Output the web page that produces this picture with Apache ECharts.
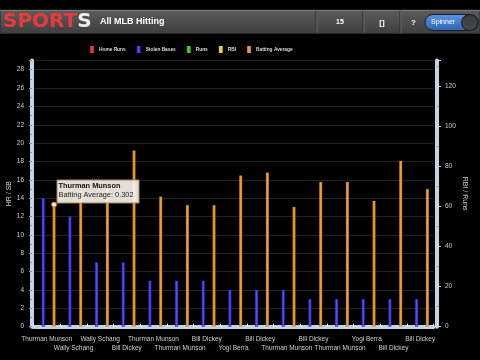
<!DOCTYPE html>
<html>
<head>
<meta charset="utf-8">
<script src="https://cdn.jsdelivr.net/npm/echarts@6/dist/echarts.min.js"></script>
<style>
html,body{margin:0;padding:0;background:#000;}
#c{width:480px;height:360px;}
</style>
</head>
<body>
<div id="c"></div>
<script>
// ---- data ----
const categories = ['Thurman Munson','Wally Schang','Wally Schang','Bill Dickey','Thurman Munson','Thurman Munson','Bill Dickey','Yogi Berra','Bill Dickey','Thurman Munson','Bill Dickey','Thurman Munson','Yogi Berra','Bill Dickey','Bill Dickey'];
const homeRuns = [];
const stolenBases = [14, 12, 7, 7, 5, 5, 5, 4, 4, 4, 3, 3, 3, 3, 3];
const runs = [];
const rbi = [];
const battingAverage = [61, 68, 69, 88, 65, 60.7, 60.7, 75.5, 77, 59.8, 72.3, 72.3, 62.8, 82.8, 68.7];
const seriesNames = ['Home Runs', 'Stolen Bases', 'Runs', 'RBI', 'Batting Average'];
const leftAxisName = 'HR / SB';
const rightAxisName = 'RBI / Runs';
const headerTitle = 'All MLB Hitting';
const tooltipIndex = 0;
const tooltipValue = '0.302';

// ---- styles ----
function barGrad(edge, mid) {
  return new echarts.graphic.LinearGradient(0, 0, 1, 0, [
    {offset: 0, color: edge}, {offset: 0.5, color: mid}, {offset: 1, color: edge}
  ]);
}
const colors = [
  barGrad('#c01818', '#f04848'),
  barGrad('#3020c8', '#5a50f4'),
  barGrad('#30a018', '#60d040'),
  barGrad('#c8b818', '#f0e048'),
  barGrad('#c07418', '#f0a838')
];
const axisCol = '#c4d4e4';
const labelCol = '#cfcfcf';
const font = 'Liberation Sans, Arial, sans-serif';

const chart = echarts.init(document.getElementById('c'), null, {renderer: 'canvas'});

function mkSeries(i, data, yIdx) {
  return {
    name: seriesNames[i], type: 'bar', yAxisIndex: yIdx, data: data,
    barWidth: 3, barGap: '20%',
    itemStyle: {color: colors[i]},
    emphasis: {disabled: true}
  };
}
const series = [
  mkSeries(0, homeRuns, 0),
  mkSeries(1, stolenBases, 0),
  mkSeries(2, runs, 1),
  mkSeries(3, rbi, 1),
  mkSeries(4, battingAverage, 1)
];
series[4].markPoint = {
  symbol: 'circle', symbolSize: 5,
  itemStyle: {color: '#f4ecdc', borderColor: '#c87818', borderWidth: 1},
  label: {show: false},
  data: [{coord: [tooltipIndex, battingAverage[tooltipIndex]]}]
};

const option = {
  backgroundColor: '#000',
  animation: false,
  textStyle: {fontFamily: font},
  legend: {
    left: 85, top: 41, itemWidth: 4, itemHeight: 7, itemGap: 11, icon: 'rect',
    data: seriesNames,
    textStyle: {color: '#dcdcdc', fontSize: 4.8, fontWeight: 'bold', fontFamily: font},
    selectedMode: false
  },
  grid: {left: 33.5, right: 46.5, top: 60.5, bottom: 33.3, containLabel: false, outerBoundsMode: 'none'},
  xAxis: {
    type: 'category', data: categories, offset: 2,
    axisLine: {lineStyle: {color: axisCol, width: 4}},
    axisTick: {show: true, inside: true, length: 3, lineStyle: {color: '#eef4fa', width: 1}},
    axisLabel: {
      interval: 0, color: labelCol, fontSize: 6.5, lineHeight: 9, margin: 6,
      formatter: (v, i) => (i % 2 ? '\n' + v : v)
    },
    splitLine: {show: false}
  },
  yAxis: [
    {
      type: 'value', min: 0, max: 29, interval: 2, offset: 1.5,
      name: leftAxisName, nameLocation: 'middle', nameGap: 19.5, nameMoveOverlap: false,
      nameTextStyle: {color: labelCol, fontSize: 7},
      axisLine: {show: true, lineStyle: {color: axisCol, width: 4}},
      axisTick: {show: true, length: 3, lineStyle: {color: '#8a9aaa'}},
      minorTick: {show: true, splitNumber: 2, length: 2, lineStyle: {color: '#8a9aaa'}},
      axisLabel: {color: labelCol, fontSize: 6.5, margin: 8, showMaxLabel: false},
      splitLine: {show: true, lineStyle: {color: '#222', width: 1}}
    },
    {
      type: 'value', min: 0, max: 133, interval: 20, offset: 3.5, position: 'right',
      name: rightAxisName, nameLocation: 'middle', nameGap: 24, nameRotate: -90, nameMoveOverlap: false,
      nameTextStyle: {color: labelCol, fontSize: 7},
      axisLine: {show: true, lineStyle: {color: axisCol, width: 4}},
      axisTick: {show: true, length: 4, lineStyle: {color: axisCol}},
      minorTick: {show: true, splitNumber: 2, length: 2, lineStyle: {color: '#8a9aaa'}},
      axisLabel: {color: labelCol, fontSize: 6.5, margin: 8, showMaxLabel: false},
      splitLine: {show: false}
    }
  ],
  series: series,
  graphic: [
    // header bar
    {type: 'rect', shape: {x: 0, y: 10, width: 480, height: 23.5},
      style: {fill: new echarts.graphic.LinearGradient(0, 0, 0, 1, [
        {offset: 0, color: '#5c5c5c'}, {offset: 1, color: '#3e3e3e'}]), stroke: '#2a2a2a', lineWidth: 1}, z: 10},
    {type: 'line', shape: {x1: 0, y1: 10.5, x2: 480, y2: 10.5}, style: {stroke: '#7a7a7a', lineWidth: 1}, z: 11},
    {type: 'text', left: 3, top: 11.5, z: 12,
      style: {text: '{r|SPORT}{w|S}', font: 'bold 20px "DejaVu Sans"',
        rich: {r: {fill: '#e83a3a', font: 'bold 20px "DejaVu Sans"'}, w: {fill: '#ececec', font: 'bold 20px "DejaVu Sans"'}}}},
    {type: 'text', x: 100, y: 22, z: 12,
      style: {text: headerTitle, fill: '#ffffff', font: 'bold 9px ' + font, verticalAlign: 'middle'}},
    // separators
    {type: 'line', shape: {x1: 316, y1: 10.5, x2: 316, y2: 33}, style: {stroke: '#2c2c2c', lineWidth: 1}, z: 11},
    {type: 'line', shape: {x1: 317, y1: 10.5, x2: 317, y2: 33}, style: {stroke: '#666', lineWidth: 1}, z: 11},
    {type: 'line', shape: {x1: 363, y1: 10.5, x2: 363, y2: 33}, style: {stroke: '#2c2c2c', lineWidth: 1}, z: 11},
    {type: 'line', shape: {x1: 364, y1: 10.5, x2: 364, y2: 33}, style: {stroke: '#666', lineWidth: 1}, z: 11},
    {type: 'line', shape: {x1: 400, y1: 10.5, x2: 400, y2: 33}, style: {stroke: '#2c2c2c', lineWidth: 1}, z: 11},
    {type: 'line', shape: {x1: 401, y1: 10.5, x2: 401, y2: 33}, style: {stroke: '#666', lineWidth: 1}, z: 11},
    {type: 'text', x: 340, y: 22.5, z: 12,
      style: {text: String(categories.length), fill: '#fff', font: 'bold 7px ' + font, align: 'center', verticalAlign: 'middle'}},
    {type: 'text', x: 382, y: 22.5, z: 12,
      style: {text: '[]', fill: '#fff', font: 'bold 8px ' + font, align: 'center', verticalAlign: 'middle'}},
    {type: 'text', x: 413.5, y: 22.5, z: 12,
      style: {text: '?', fill: '#fff', font: 'bold 8px ' + font, align: 'center', verticalAlign: 'middle'}},
    // spinner switch
    {type: 'rect', shape: {x: 425, y: 14.5, width: 53.5, height: 16, r: 8}, z: 12,
      style: {fill: new echarts.graphic.LinearGradient(0, 0, 0, 1, [
        {offset: 0, color: '#5a96e0'}, {offset: 1, color: '#2c64b4'}]), stroke: '#1e1e1e', lineWidth: 1}},
    {type: 'circle', shape: {cx: 469.5, cy: 22.5, r: 8}, z: 13,
      style: {fill: new echarts.graphic.LinearGradient(0, 0, 0, 1, [
        {offset: 0, color: '#3a3a3a'}, {offset: 1, color: '#4a4a4a'}]), stroke: '#1a1a1a', lineWidth: 1}},
    {type: 'text', x: 431, y: 22.5, z: 14,
      style: {text: 'Spinner', fill: '#fff', font: '7px ' + font, verticalAlign: 'middle'}},
    // tooltip
    {type: 'rect', shape: {x: 57, y: 180, width: 82, height: 23}, z: 20,
      style: {fill: 'rgba(246,242,234,0.92)', stroke: '#a8875a', lineWidth: 1}},
    {type: 'text', x: 58.5, y: 186, z: 21,
      style: {text: categories[tooltipIndex], fill: '#111', font: 'bold 7.4px ' + font, verticalAlign: 'middle'}},
    {type: 'text', x: 58.5, y: 194.5, z: 21,
      style: {text: seriesNames[4] + ': ' + tooltipValue, fill: '#222', font: '7.4px ' + font, verticalAlign: 'middle'}}
  ]
};
chart.setOption(option);
</script>
</body>
</html>
